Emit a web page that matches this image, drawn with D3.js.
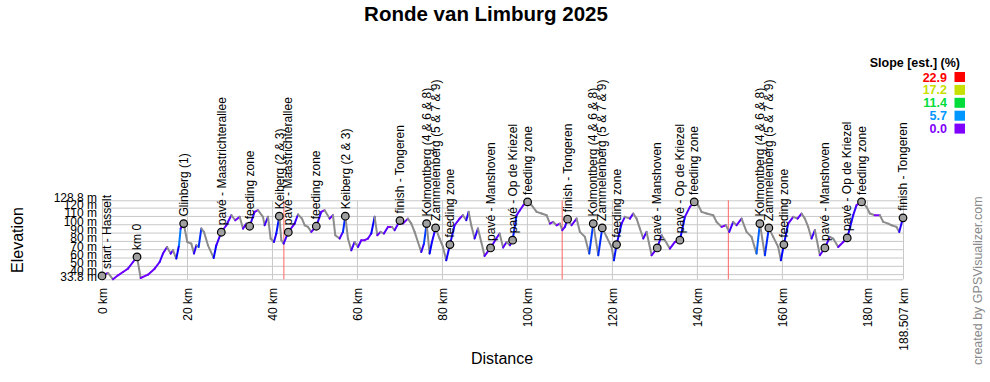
<!DOCTYPE html>
<html>
<head>
<meta charset="utf-8">
<script src="https://cdn.jsdelivr.net/npm/d3@7"></script>
<style>
  body { margin: 0; background: #fff; }
  svg { display: block; font-family: "Liberation Sans", Arial, sans-serif; }
</style>
</head>
<body>
<div id="chart"></div>
<script>
// profile (km, m)
const distKm = [0, 1.41, 2.59, 3.77, 4.94, 6.12, 7.3, 8.24, 9.1, 10.82, 12.39, 13.57, 14.35, 15.3, 16.16, 16.71, 17.49, 18.12, 18.51, 19.22,
  20.08, 21.02, 21.65, 22.2, 22.75, 23.37, 24.0, 24.94, 26.28, 26.9, 28.08, 29.26, 30.43, 31.37, 32.39, 33.18, 33.96, 34.75, 35.92, 36.71,
  37.88, 38.28, 39.06, 39.69, 40.47, 41.02, 41.73, 42.2, 42.75, 43.84, 45.33, 46.12, 47.06, 47.69, 48.47, 49.26, 50.43, 51.61, 52.39, 53.57,
  54.35, 54.9, 55.92, 56.71, 57.26, 57.88, 58.67, 59.45, 60.24, 61.02, 61.81, 62.59, 63.37, 64.16, 64.79, 65.57, 66.35, 67.3, 68.24, 68.86,
  70.12, 70.82, 72.0, 72.79, 73.57, 74.35, 75.14, 75.77, 76.39, 77.1, 77.65, 78.51, 79.45, 80.24, 81.02, 81.88, 82.98, 84.16, 84.94, 85.73,
  86.28, 86.9, 87.69, 88.47, 89.26, 90.04, 91.45, 92.79, 93.57, 94.4,
  95.22, 96.0, 96.63, 97.57, 98.36, 99.14, 100.16, 101.1, 102.28, 103.45, 104.63, 105.41, 106.2, 106.98, 107.77, 108.32, 108.94, 109.57, 110.51, 111.69,
  112.47, 113.65, 114.67, 115.61, 116.79, 117.73, 118.75, 119.92, 120.47, 121.1, 122.28, 123.06, 124.24, 125.02, 125.81, 126.59, 127.38, 128.16, 129.34, 130.67,
  131.69, 132.47, 133.65, 134.83, 136.0, 137.18, 138.36, 139.38, 140.32, 141.1, 142.28, 143.85, 144.63, 145.81, 146.83, 147.61, 148.55, 149.34, 150.51, 151.69,
  152.86, 154.04, 154.83, 156.0, 156.94, 157.96, 159.14, 159.77, 160.47, 161.49, 162.67, 163.69, 164.63, 165.41, 166.2, 166.98, 167.77, 168.94, 170.12, 171.3,
  172.08, 173.26, 174.44, 175.38, 176.79, 177.57, 178.75, 179.92, 180.71, 181.88, 183.06, 183.85, 185.02, 185.81, 186.98, 187.61, 188.507];
const elevM = [37.8, 41.4, 33.8, 38.6, 42.6, 46.6, 54.6, 60.7, 35.4, 39.4, 46.6, 54.6, 64.7, 72.7, 64.7, 68.7, 58.7, 74.7, 94.8, 100.8,
  78.7, 76.7, 64.7, 74.7, 72.7, 94.8, 90.8, 74.7, 59.5, 74.7, 90.4, 98.8, 110.9, 104.8, 108.9, 94.8, 100.8, 97.6, 114.9, 116.9,
  108.9, 98.8, 108.9, 82.8, 78.7, 88.8, 109.7, 80.8, 76.7, 90.4, 100.8, 111.7, 106.8, 98.8, 96.8, 90.8, 97.6, 114.9, 116.9, 106.8,
  110.9, 86.8, 82.8, 90.8, 109.7, 82.8, 68.7, 78.7, 72.7, 80.8, 80.8, 82.8, 88.8, 108.9, 86.8, 90.8, 88.8, 96.8, 96.8, 92.8,
  104.4, 100.8, 106.8, 100.8, 90.8, 78.7, 66.7, 76.7, 100.8, 64.7, 78.7, 95.6, 82.8, 72.7, 56.6, 75.5, 98.8, 106.8, 110.9, 104.8,
  114.9, 98.8, 82.8, 94.8, 78.7, 61.9, 71.5, 82.8, 88.8, 72,
  78.7, 74.7, 80.8, 110.9, 116.9, 122.9, 126.9, 122.9, 114.9, 112.9, 110.9, 100.8, 102.8, 98.8, 100.8, 92.8, 96.8, 106.1, 98.8, 106.8,
  90.8, 84.8, 64.7, 100.8, 62.7, 95.6, 84.8, 72.7, 56.6, 75.5, 100.8, 108.9, 106.8, 112.9, 106.8, 94.8, 82.8, 90.8, 62.7, 71.5,
  86.8, 80.8, 70.7, 78.7, 80.8, 108.9, 120.9, 126.9, 122.9, 114.9, 112.9, 110.9, 102.8, 96.8, 98.8, 90.8, 102.8, 98.8, 106.8, 90.8,
  84.8, 64.7, 100.8, 62.7, 95.6, 84.8, 72.7, 56.6, 75.5, 100.8, 108.9, 106.8, 112.9, 106.8, 96.8, 82.8, 92.8, 62.7, 71.5, 84.8,
  82.8, 72.7, 78.7, 83.6, 110.9, 122.9, 126.9, 120.9, 112.9, 110.9, 110.9, 102.8, 100.8, 98.8, 96.8, 90.8, 107.7];

// waypoints
const wpNames = ['start - Hasselt', 'km 0', 'Glinberg (1)', 'pavé - Maastrichterallee', 'feeding zone', 'Keiberg (2 & 3)',
  'pavé - Maastrichterallee', 'feeding zone', 'Keiberg (2 & 3)', 'finish - Tongeren', 'Kolmontberg (4 & 6 & 8)', 'Zammelenberg (5 & 7 & 9)',
  'feeding zone', 'pavé - Manshoven', 'pavé - Op de Kriezel', 'feeding zone', 'finish - Tongeren', 'Kolmontberg (4 & 6 & 8)',
  'Zammelenberg (5 & 7 & 9)', 'feeding zone', 'pavé - Manshoven', 'pavé - Op de Kriezel', 'feeding zone', 'Kolmontberg (4 & 6 & 8)',
  'Zammelenberg (5 & 7 & 9)', 'feeding zone', 'pavé - Manshoven', 'pavé - Op de Kriezel', 'feeding zone', 'finish - Tongeren'];
const wpKm = [0, 8.24, 19.22, 28.08, 34.75, 41.73, 43.84, 50.43, 57.26, 70.12, 76.39, 78.51, 81.88, 91.45, 96.63, 100.16,
  109.57, 115.61, 117.73, 121.1, 130.67, 136.0, 139.38, 154.83, 156.94, 160.47, 170.12, 175.38, 178.75, 188.507];
const wpElev = [37.8, 60.7, 100.8, 90.4, 97.6, 109.7, 90.4, 97.6, 109.7, 104.4, 100.8, 95.6, 75.5, 71.5, 80.8, 126.9,
  106.1, 100.8, 95.6, 75.5, 71.5, 80.8, 126.9, 100.8, 95.6, 75.5, 71.5, 83.6, 126.9, 107.7];

// track breaks (red lines)
const splitKm = [42.8, 108.3, 147.4];

const xTicks = [0, 20, 40, 60, 80, 100, 120, 140, 160, 180, 188.507];
const yTicks = [33.8, 40, 50, 60, 70, 80, 90, 100, 110, 120, 128.8];

const slopeStops = [0, 5.7, 11.4, 17.2, 22.9];
const slopeColors = ['#7f00ff', '#0096ff', '#00dd3a', '#c8e000', '#ff0000'];

const width = 990, height = 382;
const plotLeft = 102, plotRight = 903, plotTop = 200.3, plotBottom = 279.3;

const svg = d3.select('#chart').append('svg')
  .attr('width', width)
  .attr('height', height);

svg.append('rect').attr('width', width).attr('height', height).attr('fill', '#fff');

const x = d3.scaleLinear().domain([0, 188.507]).range([plotLeft, plotRight]);
const y = d3.scaleLinear().domain([33.8, 128.8]).range([plotBottom, plotTop]);

const slopeColor = d3.scaleLinear()
  .domain(slopeStops)
  .range(slopeColors)
  .interpolate(d3.interpolateHsl)
  .clamp(true);

// title
svg.append('text')
  .attr('x', 486).attr('y', 21)
  .attr('text-anchor', 'middle')
  .style('font-size', '20.5px').style('font-weight', 'bold')
  .text('Ronde van Limburg 2025');

// Y axis + horizontal grid
const yAxis = svg.append('g')
  .attr('transform', `translate(${plotLeft},0)`)
  .call(d3.axisLeft(y).tickValues(yTicks).tickSize(-(plotRight - plotLeft)).tickPadding(5).tickFormat(d => d + ' m'));
yAxis.select('.domain').remove();
yAxis.selectAll('line').attr('stroke', '#c8c8c8');
yAxis.selectAll('text')
  .attr('dy', '0.07em')
  .style('font-size', '12px')
  .style('font-family', '"Liberation Sans", Arial, sans-serif')
  .attr('fill', '#000');

// X axis + vertical grid
const xAxis = svg.append('g')
  .attr('transform', `translate(0,${plotBottom})`)
  .call(d3.axisBottom(x).tickValues(xTicks).tickSize(-(plotBottom - plotTop)).tickFormat(d => d + ' km'));
xAxis.select('.domain').remove();
xAxis.selectAll('line').attr('stroke', '#c8c8c8');
xAxis.selectAll('text')
  .attr('transform', 'rotate(-90)')
  .attr('x', -8.7)
  .attr('y', 0)
  .attr('dy', '0.35em')
  .style('text-anchor', 'end')
  .style('font-size', '12px')
  .style('font-family', '"Liberation Sans", Arial, sans-serif')
  .attr('fill', '#000');

// red break lines
svg.selectAll('.split')
  .data(splitKm)
  .enter()
  .append('line')
  .attr('class', 'split')
  .attr('x1', d => x(d)).attr('x2', d => x(d))
  .attr('y1', plotTop).attr('y2', plotBottom)
  .attr('stroke', '#ff6464');

// profile as slope-coloured segments
const pts = distKm.map((d, i) => ({ d: d, e: elevM[i] })).filter(p => p.e !== undefined);
const segs = d3.pairs(pts).map(([a, b]) => {
  const slope = (b.e - a.e) / ((b.d - a.d) * 1000) * 100;
  return { a: a, b: b, slope: slope };
});

svg.selectAll('.seg')
  .data(segs)
  .enter()
  .append('line')
  .attr('class', 'seg')
  .attr('x1', s => x(s.a.d)).attr('y1', s => y(s.a.e))
  .attr('x2', s => x(s.b.d)).attr('y2', s => y(s.b.e))
  .attr('stroke', s => s.slope >= 0 ? slopeColor(s.slope) : '#8c8c8c')
  .attr('stroke-width', 2)
  .attr('stroke-linecap', 'round');

// waypoints
const wps = wpNames.map((n, i) => ({ name: n, km: wpKm[i], elev: wpElev[i] }));

svg.selectAll('.wp')
  .data(wps)
  .enter()
  .append('circle')
  .attr('class', 'wp')
  .attr('cx', d => x(d.km))
  .attr('cy', d => y(d.elev))
  .attr('r', 3.8)
  .attr('fill', '#a0a0a0')
  .attr('stroke', '#000')
  .attr('stroke-width', 1.2);

svg.selectAll('.wplabel')
  .data(wps)
  .enter()
  .append('text')
  .attr('class', 'wplabel')
  .attr('transform', (d, i) => `translate(${x(d.km) + (i === 0 ? 5 : 0)},${y(d.elev) - 7}) rotate(-90)`)
  .attr('dy', '0.35em')
  .style('font-size', '12px')
  .text(d => d.name);

// axis titles
svg.append('text')
  .attr('transform', 'translate(23,240) rotate(-90)')
  .attr('text-anchor', 'middle')
  .style('font-size', '16px')
  .text('Elevation');

svg.append('text')
  .attr('x', 502).attr('y', 364)
  .attr('text-anchor', 'middle')
  .style('font-size', '16px')
  .text('Distance');

svg.append('text')
  .attr('transform', 'translate(982,365) rotate(-90)')
  .style('font-size', '12.5px')
  .attr('fill', '#8a8a8a')
  .text('created by GPSVisualizer.com');

// legend
svg.append('text')
  .attr('x', 960).attr('y', 67)
  .attr('text-anchor', 'end')
  .style('font-size', '12.5px').style('font-weight', 'bold')
  .text('Slope [est.] (%)');

const legendItems = slopeStops.map((s, i) => ({ v: s, c: slopeColors[i] })).reverse();
const lg = svg.selectAll('.lg')
  .data(legendItems)
  .enter()
  .append('g')
  .attr('class', 'lg')
  .attr('transform', (d, i) => `translate(954.5,${72 + i * 12.9})`);

lg.append('rect')
  .attr('width', 10.5).attr('height', 10)
  .attr('fill', d => d.c);

lg.append('text')
  .attr('x', -7.5).attr('y', 9.5)
  .attr('text-anchor', 'end')
  .style('font-size', '12.5px').style('font-weight', 'bold')
  .attr('fill', d => d.c)
  .text(d => d.v.toFixed(1));
</script>
</body>
</html>
